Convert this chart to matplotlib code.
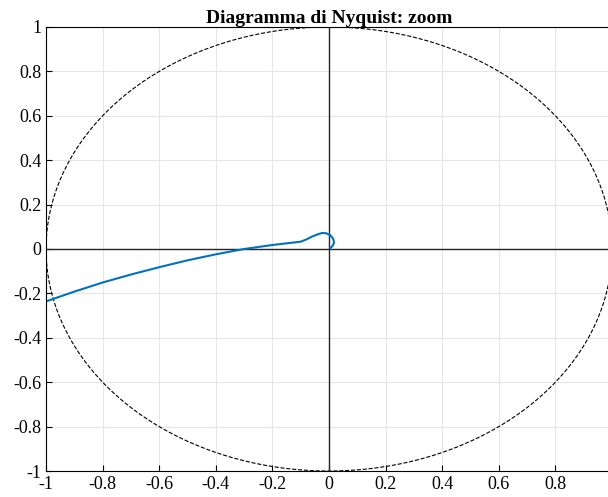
import numpy as np
import matplotlib.pyplot as plt

plt.rcParams['font.family'] = ['Liberation Serif', 'DejaVu Serif']
plt.rcParams['axes.unicode_minus'] = False

re = [-1.0, -0.9, -0.8, -0.7, -0.6, -0.5, -0.4, -0.3, -0.2, -0.1,
      -0.08, -0.06, -0.04, -0.025, -0.01, 0.005, 0.015, 0.018, 0.012, 0.006]
im = [-0.236, -0.192, -0.151, -0.115, -0.082, -0.051, -0.024, 0.000, 0.018, 0.033,
      0.043, 0.056, 0.066, 0.072, 0.071, 0.062, 0.045, 0.028, 0.013, 0.006]

xticks = [-1, -0.8, -0.6, -0.4, -0.2, 0, 0.2, 0.4, 0.6, 0.8]
yticks = [-1, -0.8, -0.6, -0.4, -0.2, 0, 0.2, 0.4, 0.6, 0.8, 1]

fig = plt.figure(figsize=(6.08, 4.97), dpi=100)
ax = fig.add_axes([0.0757, 0.0523, 0.9309, 0.8934])

t = np.linspace(0, 2 * np.pi, 400)
ax.plot(np.cos(t), np.sin(t), 'k--', lw=0.8)
ax.axhline(0, color='#262626', lw=1.0)
ax.axvline(0, color='#262626', lw=1.0)
ax.plot(re, im, color='#0072BD', lw=1.5)

ax.set_xlim(-1, 1)
ax.set_ylim(-1, 1)
ax.set_xticks(xticks)
ax.set_yticks(yticks)
ax.set_xticklabels([f'{v:g}' for v in xticks])
ax.set_yticklabels([f'{v:g}' for v in yticks])
ax.tick_params(direction='in', labelsize=13, length=4)
ax.grid(True, color='#e6e6e6', lw=0.8)
ax.set_axisbelow(True)
for s in ax.spines.values():
    s.set_linewidth(0.8)
ax.set_title('Diagramma di Nyquist: zoom', fontsize=14, fontweight='bold', pad=3)

fig.savefig('out.png', dpi=100)
